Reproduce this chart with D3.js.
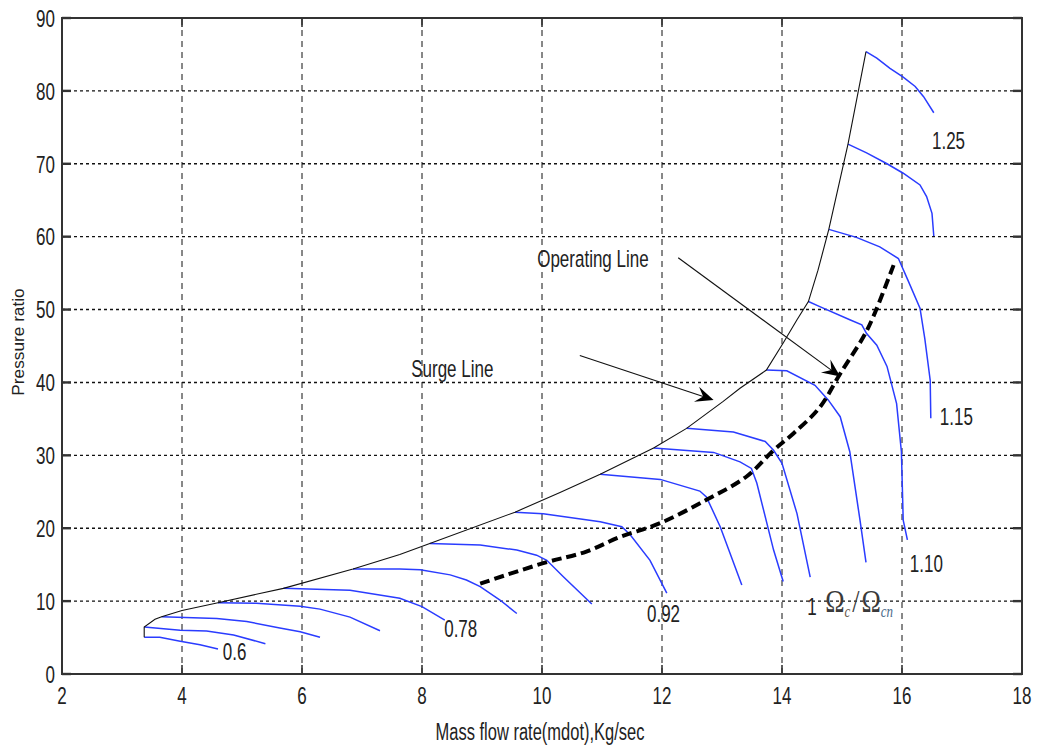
<!DOCTYPE html>
<html>
<head>
<meta charset="utf-8">
<script src="https://cdn.jsdelivr.net/npm/d3@7"></script>
<style>
  html, body { margin: 0; padding: 0; background: #fff; }
  svg { display: block; }
  text { font-family: "Liberation Sans", Arial, sans-serif; fill: #222; }
</style>
</head>
<body>
<svg id="chart" width="1040" height="750"></svg>
<script>
// ---------- data ----------
const xTicks = [2, 4, 6, 8, 10, 12, 14, 16, 18];
const yTicks = [0, 10, 20, 30, 40, 50, 60, 70, 80, 90];

// constant-speed lines (mass flow, pressure ratio)
const sl1  = [[3.37,5.03],[3.63,5.03],[3.97,4.5],[4.3,4.0],[4.6,3.43]];
const sl2  = [[3.37,6.45],[3.97,6.0],[4.41,5.9],[4.86,5.35],[5.39,4.16]];
const sl3  = [[3.66,7.86],[4.58,7.6],[5.08,7.2],[5.63,6.3],[5.97,5.8],[6.3,5.03]];
const sl4  = [[4.6,9.78],[5.24,9.7],[5.97,9.3],[6.3,8.9],[6.8,7.8],[7.3,5.94]];
const sl5  = [[5.69,11.75],[6.8,11.5],[7.63,10.4],[8.0,9.25],[8.38,7.4]];
const sl6  = [[6.85,14.4],[7.63,14.4],[7.97,14.3],[8.47,13.6],[8.74,12.9],[8.97,12.0],[9.3,10.15],[9.58,8.3]];
const sl7  = [[8.13,17.9],[8.97,17.7],[9.58,17.0],[9.91,16.3],[10.08,15.6],[10.36,13.3],[10.83,9.6]];
const sl8  = [[9.55,22.2],[10.02,22.0],[10.97,20.9],[11.33,20.2],[11.47,19.1],[11.8,15.6],[12.08,11.1]];
const sl9  = [[10.97,27.4],[11.97,26.7],[12.63,25.1],[12.74,24.3],[12.97,20.2],[13.33,12.2]];
const sl10 = [[11.86,31.0],[12.86,30.4],[13.3,29.1],[13.49,28.2],[13.58,26.2],[13.86,17.0],[14.02,12.7]];
const sl11 = [[12.41,33.7],[13.19,33.2],[13.72,31.9],[13.86,30.7],[14.0,28.9],[14.25,22.0],[14.47,13.3]];
const sl12 = [[13.74,41.7],[14.08,41.6],[14.55,39.6],[14.77,37.6],[14.97,35.3],[15.13,30.5],[15.3,21.1],[15.4,15.3]];
const sl13 = [[14.44,51.1],[14.63,50.4],[15.13,48.6],[15.33,47.9],[15.41,46.7],[15.58,45.1],[15.75,42.2],[15.91,37.1],[15.99,30.5],[16.02,21.1],[16.09,18.4]];
const sl14 = [[14.78,61.0],[15.24,59.9],[15.63,58.6],[15.94,57.0],[16.1,54.0],[16.3,50.2],[16.38,46.0],[16.47,40.3],[16.48,35.1]];
const sl15 = [[15.1,72.7],[15.41,71.5],[15.75,70.0],[16.02,68.7],[16.3,67.1],[16.41,65.5],[16.5,63.2],[16.53,60.1]];
const sl16 = [[15.4,85.4],[15.58,84.5],[15.8,83.1],[16.02,81.9],[16.22,80.6],[16.36,79.2],[16.53,77.0]];
const speedLines = [sl1, sl2, sl3, sl4, sl5, sl6, sl7, sl8, sl9, sl10, sl11, sl12, sl13, sl14, sl15, sl16];

const surgeLine = [[3.37,5.03],[3.37,6.45],[3.55,7.5],[3.66,7.86],[4.0,8.7],[4.6,9.78],[5.69,11.75],[6.85,14.4],
  [7.63,16.4],[8.13,17.9],[9.55,22.2],[10.3,24.9],[10.97,27.4],[11.86,31.0],[12.41,33.7],[13.02,37.4],[13.3,39.2],
  [13.74,41.7],[14.02,45.4],[14.25,48.6],[14.44,51.1],[14.6,55.4],[14.78,61.0],[15.1,72.7],[15.4,85.4]];

const operatingLine = [[8.97,12.4],[10.02,15.2],[10.74,16.8],[11.3,18.8],[11.97,20.7],[12.74,23.9],[13.41,27.1],
  [13.86,30.7],[14.19,33.0],[14.63,36.6],[14.97,41.2],[15.36,46.3],[15.52,49.0],[15.86,56.1]];

// speed labels: text, x (left), y (centre) in data units
const speedLabelText = ["0.6", "0.78", "0.92", "1", "1.10", "1.15", "1.25"];
const speedLabelX    = [4.68, 8.37, 11.75, 14.42, 16.13, 16.63, 16.5];
const speedLabelY    = [3.15, 6.3, 8.3, 9.33, 15.2, 35.4, 73.25];

// annotations: [text, textX, textY, arrowFromX, arrowFromY, arrowToX, arrowToY]
const annotations = [
  ["Operating Line", 9.92, 57.1, 12.27, 57.1, 14.97, 40.8],
  ["Surge Line", 7.82, 42.0, 10.63, 43.7, 12.86, 37.6]
];

// ---------- layout ----------
const svg = d3.select("#chart");
const x = d3.scaleLinear().domain([2, 18]).range([62, 1022]);
const y = d3.scaleLinear().domain([0, 90]).range([674, 18]);
const SY = 1.45; // vertical stretch of the original lettering

function stretchedText(g, str, px, py, anchor, size) {
  const t = g.append("g").attr("transform", `translate(${px},${py}) scale(1,${SY})`)
    .append("text")
    .attr("x", 0).attr("y", 0)
    .attr("text-anchor", anchor)
    .attr("dominant-baseline", "central")
    .style("font-size", size + "px")
    .text(str);
  return t;
}

// grid
const grid = svg.append("g");
grid.selectAll("line.gx").data(xTicks.slice(1, -1)).join("line")
  .attr("x1", d => x(d)).attr("x2", d => x(d))
  .attr("y1", y(0)).attr("y2", y(90))
  .attr("stroke", "#111").attr("stroke-width", 1).attr("stroke-dasharray", "6,5");
grid.selectAll("line.gy").data(yTicks.slice(1, -1)).join("line")
  .attr("x1", x(2)).attr("x2", x(18))
  .attr("y1", d => y(d)).attr("y2", d => y(d))
  .attr("stroke", "#111").attr("stroke-width", 1.4).attr("stroke-dasharray", "3,3");

// speed lines
const line = d3.line().x(d => x(d[0])).y(d => y(d[1]));
svg.append("g").selectAll("path").data(speedLines).join("path")
  .attr("d", line)
  .attr("fill", "none")
  .attr("stroke", "#2a3cff")
  .attr("stroke-width", 1.5);

// surge line
svg.append("path").datum(surgeLine)
  .attr("d", line).attr("fill", "none")
  .attr("stroke", "#111").attr("stroke-width", 1.1);

// operating line
svg.append("path").datum(operatingLine)
  .attr("d", d3.line().x(d => x(d[0])).y(d => y(d[1])).curve(d3.curveCatmullRom.alpha(0.5)))
  .attr("fill", "none")
  .attr("stroke", "#000").attr("stroke-width", 4)
  .attr("stroke-dasharray", "10,5");

// axes box
const box = svg.append("g");
box.append("rect")
  .attr("x", x(2)).attr("y", y(90))
  .attr("width", x(18) - x(2)).attr("height", y(0) - y(90))
  .attr("fill", "none").attr("stroke", "#333").attr("stroke-width", 2);

// tick marks (inward, all sides)
const tk = 9;
box.selectAll("line.tl").data(yTicks).join("line")
  .attr("x1", x(2)).attr("x2", x(2) + tk).attr("y1", d => y(d)).attr("y2", d => y(d))
  .attr("stroke", "#333").attr("stroke-width", 2.4);
box.selectAll("line.tr").data(yTicks).join("line")
  .attr("x1", x(18)).attr("x2", x(18) - tk).attr("y1", d => y(d)).attr("y2", d => y(d))
  .attr("stroke", "#333").attr("stroke-width", 2.4);
box.selectAll("line.tb").data(xTicks).join("line")
  .attr("x1", d => x(d)).attr("x2", d => x(d)).attr("y1", y(0)).attr("y2", y(0) - tk)
  .attr("stroke", "#333").attr("stroke-width", 1.6);
box.selectAll("line.tt").data(xTicks).join("line")
  .attr("x1", d => x(d)).attr("x2", d => x(d)).attr("y1", y(90)).attr("y2", y(90) + tk)
  .attr("stroke", "#333").attr("stroke-width", 1.6);

// tick labels
const labels = svg.append("g");
yTicks.forEach(v => stretchedText(labels, String(v), 55, y(v), "end", 17));
xTicks.forEach(v => stretchedText(labels, String(v), x(v), 695, "middle", 17));

// axis titles
stretchedText(labels, "Mass flow rate(mdot),Kg/sec", 540, 731, "middle", 16.5);
labels.append("g").attr("transform", "translate(18,342) rotate(-90) scale(1.15,1.15)")
  .append("text").attr("text-anchor", "middle").attr("dominant-baseline", "central")
  .style("font-size", "15px").text("Pressure ratio");

// speed labels
speedLabelText.forEach((s, i) => stretchedText(labels, s, x(speedLabelX[i]), y(speedLabelY[i]), "start", 17));

// Omega label
const om = labels.append("g")
  .attr("transform", `translate(${x(14.72)},${y(8.5)}) scale(1,1.25)`)
  .append("text")
  .style("font-family", "'Liberation Serif', 'Times New Roman', serif")
  .style("font-size", "26px")
  .style("fill", "#3a3a3a");
om.append("tspan").text("Ω");
om.append("tspan").attr("dy", 4).style("font-size", "13px").style("font-style", "italic").style("fill", "#6a5a4a").text("c");
om.append("tspan").attr("dy", -4).attr("dx", 2).text("/");
om.append("tspan").attr("dx", 2).text("Ω");
om.append("tspan").attr("dy", 4).style("font-size", "13px").style("font-style", "italic").style("fill", "#4a6a8a").text("cn");

// annotations with arrows
function arrowHead(g, x0, y0, x1, y1) {
  const ang = Math.atan2(y1 - y0, x1 - x0);
  const L = 18, W = 8, notch = 11;
  const c = Math.cos(ang), s = Math.sin(ang);
  const pt = (a, b) => [x1 - a * c - b * s, y1 - a * s + b * c];
  const p = [[x1, y1], pt(L, W), pt(notch, 0), pt(L, -W)];
  g.append("path").attr("d", "M" + p.map(q => q.join(",")).join("L") + "Z").attr("fill", "#000");
  return pt(notch, 0);
}
const ann = svg.append("g");
annotations.forEach(a => {
  stretchedText(ann, a[0], x(a[1]), y(a[2]), "start", 17);
  const x0 = x(a[3]), y0 = y(a[4]), x1 = x(a[5]), y1 = y(a[6]);
  const back = arrowHead(ann, x0, y0, x1, y1);
  ann.append("line").attr("x1", x0).attr("y1", y0).attr("x2", back[0]).attr("y2", back[1])
    .attr("stroke", "#111").attr("stroke-width", 1.1);
});
</script>
</body>
</html>
